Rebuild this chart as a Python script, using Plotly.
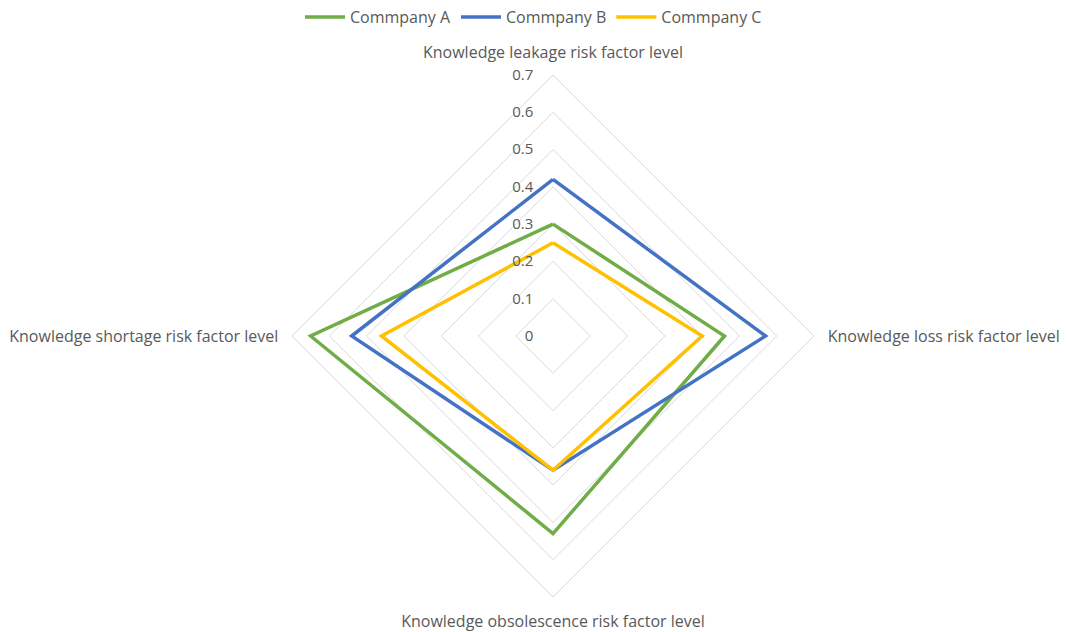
import plotly.graph_objects as go

categories = ["Knowledge leakage risk factor level",
              "Knowledge loss risk factor level",
              "Knowledge obsolescence risk factor level",
              "Knowledge shortage risk factor level"]
series_names = ["Commpany A", "Commpany B", "Commpany C"]
company_a = [0.30, 0.46, 0.53, 0.65]
company_b = [0.42, 0.57, 0.36, 0.54]
company_c = [0.25, 0.40, 0.36, 0.46]
colors = ["#70AD47", "#4472C4", "#FFC000"]
radial_ticks = [0, 0.1, 0.2, 0.3, 0.4, 0.5, 0.6, 0.7]

fig = go.Figure()
for name, vals, col in zip(series_names, [company_a, company_b, company_c], colors):
    fig.add_trace(go.Scatterpolar(
        r=vals + vals[:1], theta=categories + categories[:1],
        mode="lines", name=name, line=dict(color=col, width=3.5)))

W, H = 1067, 632
cx, cy, R = 553, 336, 261
fig.update_layout(
    width=W, height=H,
    margin=dict(l=0, r=0, t=0, b=0),
    paper_bgcolor="white",
    font=dict(family="Open Sans", color="#595959", size=16),
    legend=dict(orientation="h", x=0.5, xanchor="center", y=1.0, yanchor="top",
                font=dict(size=16, color="#595959"), itemwidth=40),
    polar=dict(
        domain=dict(x=[(cx - R) / W, (cx + R) / W],
                    y=[(H - cy - R) / H, (H - cy + R) / H]),
        gridshape="linear",
        bgcolor="white",
        radialaxis=dict(range=[0, 0.7], tickvals=radial_ticks,
                        ticktext=[f"{v:g}" for v in radial_ticks],
                        angle=90, tickangle=90, side="counterclockwise",
                        showline=False, ticks="outside", ticklen=14,
                        tickcolor="rgba(0,0,0,0)",
                        gridcolor="#D9D9D9", gridwidth=1,
                        tickfont=dict(size=15, color="#595959")),
        angularaxis=dict(rotation=90, direction="clockwise",
                         showgrid=False, linecolor="#D9D9D9", linewidth=1,
                         ticks="outside", ticklen=10, tickcolor="rgba(0,0,0,0)",
                         tickfont=dict(size=16, color="#595959")),
    ),
)
fig.write_html("out.html")
